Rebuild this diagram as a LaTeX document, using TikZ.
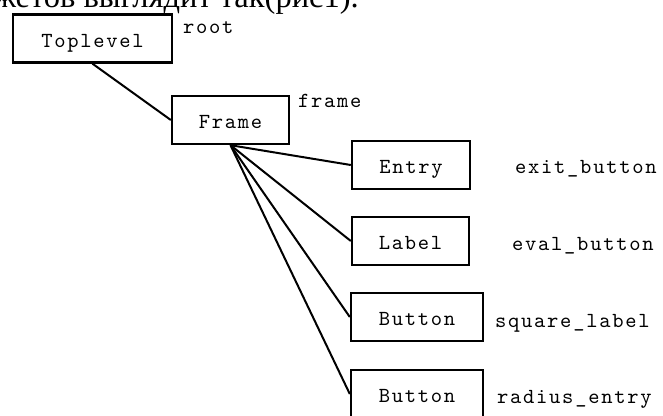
\documentclass[tikz,border=0pt]{standalone}
\usepackage{fontspec}
\newfontfamily\ruserif{Liberation Serif}
\newfontfamily\boxmono[LetterSpace=8]{lmmono10-regular.otf}
\newcommand\boxfont{\boxmono\fontsize{21.5}{22}\selectfont}
\tikzset{
  wbox/.style={draw, line width=2.4pt, inner sep=0pt, minimum height=48pt,
    text height=17pt, text depth=0pt, font=\boxfont},
  wname/.style={inner sep=0pt, anchor=base west, font=\boxfont},
  link/.style={line width=2pt},
}
\begin{document}
\begin{tikzpicture}[x=1pt,y=-1pt]
\useasboundingbox (0,0) rectangle (663,415);
\node[anchor=base east, inner sep=0pt, font=\ruserif\fontsize{32.5}{33}\selectfont] (cap) at (359,8) {жетов выглядит так(рис1).};

\node[wbox, minimum width=159pt] (top) at (92.5,38.5) {Toplevel};
\node[wbox, minimum width=117pt] (frame) at (230.5,120) {Frame};
\node[wbox, minimum width=118pt] (entry) at (411,165) {Entry};
\node[wbox, minimum width=117pt] (label) at (410.5,241) {Label};
\node[wbox, minimum width=132pt] (btna) at (417,317) {Button};
\node[wbox, minimum width=132pt] (btnb) at (417,394) {Button};

\node[wname] (nroot) at (183,33) {root};
\node[wname] (nframe) at (298,107) {frame};
\node[wname] (nexit) at (515,173) {exit\_button};
\node[wname] (neval) at (512,250) {eval\_button};
\node[wname] (nsquare) at (495,327) {square\_label};
\node[wname] (nradius) at (497,403) {radius\_entry};

\draw[link] (top.south) -- (frame.west);
\draw[link] (frame.south) -- (entry.west);
\draw[link] (frame.south) -- (label.west);
\draw[link] (frame.south) -- (btna.west);
\draw[link] (frame.south) -- (btnb.west);
\end{tikzpicture}
\end{document}
